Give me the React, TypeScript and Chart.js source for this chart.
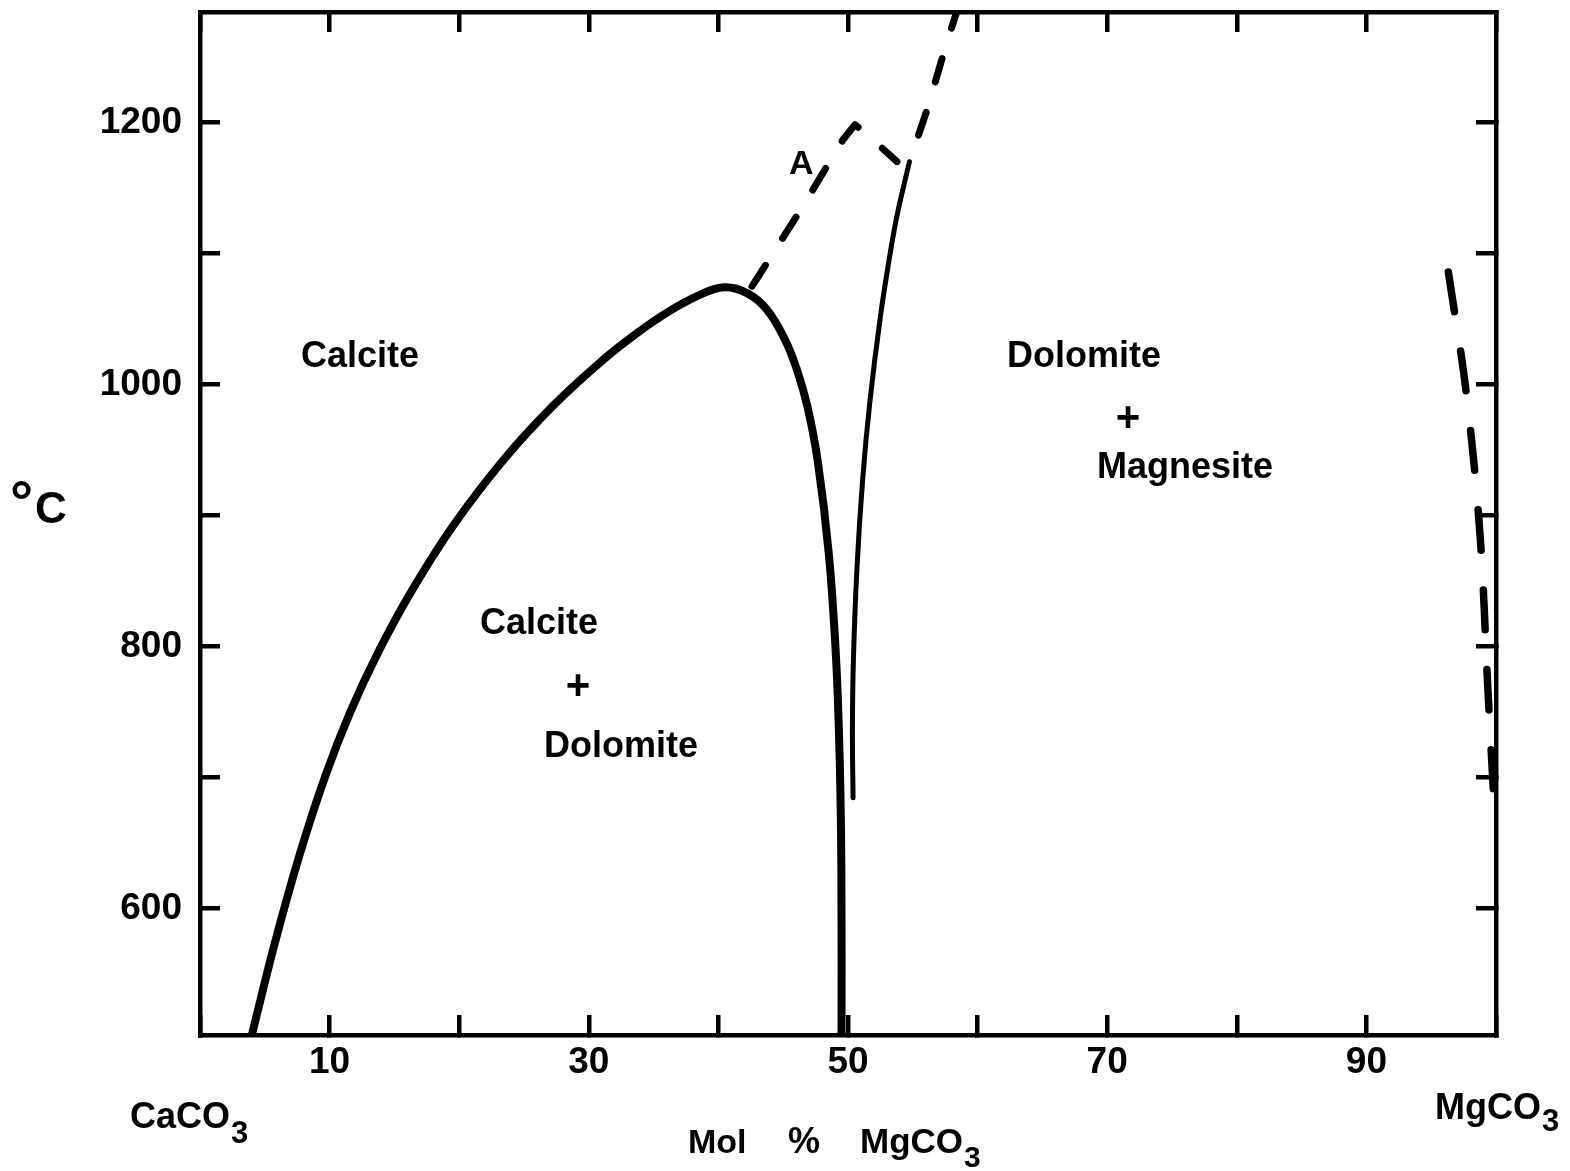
import React, { useEffect, useRef } from 'react';
import { Chart, registerables } from 'chart.js';

Chart.register(...registerables);

// ---- axis ticks ----
const xTicks = [0, 10, 20, 30, 40, 50, 60, 70, 80, 90, 100];
const xLabels = [10, 30, 50, 70, 90];
const yTicks = [600, 700, 800, 900, 1000, 1100, 1200];
const yLabels = [600, 800, 1000, 1200];
const xMin = 0;
const xMax = 100;
const yMin = 503.5;
const yMax = 1284.5;

// ---- curves (mol % MgCO3, °C) ----
// calcite / dolomite solvus (apex near 40.4 mol %, 1074 °C)
const solvusCalcite: [number, number][] = [
  [4.0, 503.5], [5.76, 573.2], [7.69, 641.2], [9.68, 701.5], [11.61, 750.4],
  [13.79, 796.5], [16.34, 842.7], [19.56, 892.7], [23.43, 942.7], [27.33, 984.7],
  [31.12, 1019.1], [33.6, 1038.5], [36.03, 1055.0], [38.52, 1068.3], [40.43, 1074.4],
  [42.28, 1069.5], [43.75, 1057.2], [45.14, 1034.3], [46.06, 1011.4], [46.87, 983.2],
  [47.65, 942.7], [48.51, 871.7], [49.08, 790.8], [49.37, 709.1], [49.49, 627.4],
  [49.5, 503.5],
];
// dolomite / magnesite side of dolomite field
const dolomiteLimb: [number, number][] = [
  [50.39, 684.7], [50.34, 736.6], [50.42, 790.8], [50.69, 859.5], [51.13, 927.5],
  [51.68, 986.2], [52.51, 1052.7], [53.3, 1103.0], [53.83, 1131.3], [54.74, 1170.2],
];
const dolomiteLimbExtension: [number, number][] = [
  [54.74, 1170.2], [56.1, 1210], [57.5, 1257], [58.4, 1285],
];
const curveA: [number, number][] = [
  [42.59, 1075], [46.45, 1135], [49.61, 1187], [50.54, 1198.5], [51.47, 1191], [53.78, 1170.3],
];
const magnesiteLimb: [number, number][] = [
  [96.32, 1086], [97.69, 995], [98.77, 885], [99.38, 766], [99.79, 691.5],
];

// ---- field labels (anchored in data units) ----
const fieldLabels = [
  { text: 'Calcite', x: 12.35, y: 1021.4, size: 36 },
  { text: 'Calcite', x: 26.16, y: 817.5, size: 36 },
  { text: '+', x: 29.17, y: 768.7, size: 42 },
  { text: 'Dolomite', x: 32.48, y: 723.6, size: 36 },
  { text: 'Dolomite', x: 68.21, y: 1021.4, size: 36 },
  { text: '+', x: 71.6, y: 973.3, size: 42 },
  { text: 'Magnesite', x: 76.0, y: 936.6, size: 36 },
  { text: 'A', x: 46.4, y: 1168, size: 34 },
];

const FONT = '"Liberation Sans", Arial, sans-serif';

export default function App() {
  const ref = useRef<HTMLCanvasElement>(null);

  useEffect(() => {
    document.body.style.margin = '0';
    const canvas = ref.current;
    if (!canvas) return;
    const toPts = (a: [number, number][]) => a.map(([x, y]) => ({ x, y }));

    const textPlugin = {
      id: 'diagramText',
      afterDraw(chart: any) {
        const ctx = chart.ctx as CanvasRenderingContext2D;
        const xs = chart.scales.x;
        const ys = chart.scales.y;
        ctx.save();
        ctx.fillStyle = '#000';
        ctx.textAlign = 'center';
        ctx.textBaseline = 'middle';
        for (const l of fieldLabels) {
          ctx.font = `bold ${l.size}px ${FONT}`;
          ctx.fillText(l.text, xs.getPixelForValue(l.x), ys.getPixelForValue(l.y));
        }
        ctx.textAlign = 'left';
        ctx.textBaseline = 'alphabetic';
        // °C
        ctx.font = `bold 58px ${FONT}`;
        ctx.fillText('°', 10, 521);
        ctx.font = `bold 44px ${FONT}`;
        ctx.fillText('C', 35, 523);
        // chemical formula with subscript
        const formula = (main: string, sub: string, x: number, base: number, size: number, subSize: number, drop: number) => {
          ctx.font = `bold ${size}px ${FONT}`;
          ctx.fillText(main, x, base);
          const w = ctx.measureText(main).width;
          ctx.font = `bold ${subSize}px ${FONT}`;
          ctx.fillText(sub, x + w + 1, base + drop);
        };
        formula('CaCO', '3', 130, 1128, 36, 31, 15);
        formula('MgCO', '3', 1435, 1119, 36, 31, 12);
        ctx.font = `bold 34px ${FONT}`;
        ctx.fillText('Mol', 688, 1153);
        ctx.font = `bold 36px ${FONT}`;
        ctx.fillText('%', 788, 1153);
        formula('MgCO', '3', 860, 1153, 35, 30, 14);
        ctx.restore();
      },
    };

    const axis = (pos: string, ticks: number[], labels: number[] | null, min: number, max: number, size: number, padding: number) => ({
      type: 'linear',
      position: pos,
      min,
      max,
      afterBuildTicks: (s: any) => {
        s.ticks = ticks.map((value) => ({ value }));
      },
      afterFit: (s: any) => {
        if (pos === 'left' || pos === 'right') s.width = size;
        else s.height = size;
        s.paddingTop = 0;
        s.paddingBottom = 0;
        s.paddingLeft = 0;
        s.paddingRight = 0;
      },
      grid: {
        display: true,
        drawOnChartArea: false,
        drawTicks: true,
        tickLength: -20,
        tickWidth: 4.5,
        tickColor: '#000',
        color: '#000',
        lineWidth: 4.5,
      },
      border: { display: true, color: '#000', width: 4.5 },
      ticks: {
        autoSkip: false,
        maxRotation: 0,
        minRotation: 0,
        padding,
        color: '#000',
        font: { family: FONT, size: 37, weight: 'bold', lineHeight: 1 },
        callback: (v: any) => (labels && labels.includes(Number(v)) ? String(v) : ''),
      },
    });

    const line = (data: [number, number][], width: number, extra: any = {}) => ({
      data: toPts(data),
      showLine: true,
      borderColor: '#000',
      backgroundColor: '#000',
      borderWidth: width,
      pointRadius: 0,
      tension: 0.4,
      borderCapStyle: 'round',
      borderJoinStyle: 'round',
      fill: false,
      xAxisID: 'x',
      yAxisID: 'y',
      ...extra,
    });

    const chart = new Chart(canvas, {
      type: 'scatter',
      data: {
        datasets: [
          line(solvusCalcite, 8),
          line(dolomiteLimb, 5, { tension: 0.35 }),
          line(dolomiteLimbExtension, 7, { borderDash: [24, 32], borderDashOffset: 28, tension: 0.2 }),
          line(curveA, 7, { borderDash: [25, 32], tension: 0 }),
          line(magnesiteLimb, 7.5, { borderDash: [40, 40], tension: 0.35 }),
        ] as any,
      },
      options: {
        responsive: false,
        animation: false,
        events: [],
        layout: { padding: 0 },
        plugins: { legend: { display: false }, tooltip: { enabled: false }, title: { display: false } },
        scales: {
          x: axis('bottom', xTicks, xLabels, xMin, xMax, 136, 29) as any,
          x2: axis('top', xTicks, null, xMin, xMax, 12, 0) as any,
          y: axis('left', yTicks, yLabels, yMin, yMax, 200, 38) as any,
          y2: axis('right', yTicks, null, yMin, yMax, 74, 0) as any,
        },
      },
      plugins: [textPlugin],
    });
    return () => chart.destroy();
  }, []);

  return (
    <div style={{ position: 'absolute', left: 0, top: 0, width: 1570, height: 1171, background: '#fff' }}>
      <canvas ref={ref} width={1570} height={1171} style={{ display: 'block', width: 1570, height: 1171 }} />
    </div>
  );
}
